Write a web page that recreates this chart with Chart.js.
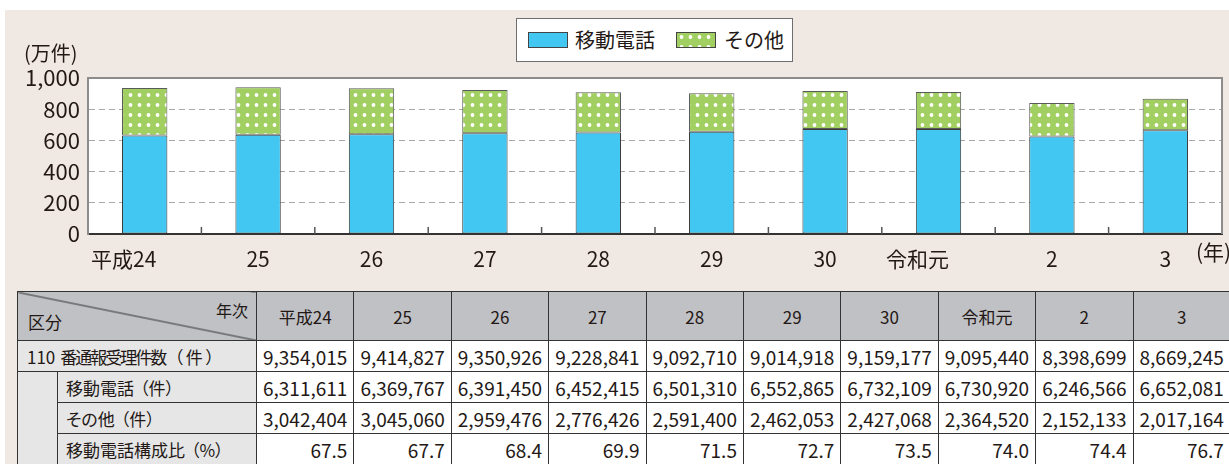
<!DOCTYPE html>
<html lang="ja">
<head>
<meta charset="utf-8">
<script src="https://cdn.jsdelivr.net/npm/chart.js@4.4.0/dist/chart.umd.min.js"></script>
<style>
body{margin:0;background:#fff;font-family:"Noto Sans CJK JP","Noto Sans",sans-serif;color:#231815;width:1229px;height:464px;overflow:hidden;position:relative;}
#bg{position:absolute;left:5px;top:10px;width:1224px;height:454px;background:#f0e9e3;}
#cv{position:absolute;left:0;top:0;}
#legend{position:absolute;left:516px;top:18px;width:275px;height:42px;border:1px solid #6f6f6f;background:#fff;font-size:20px;}
#legend .it{position:absolute;top:0;height:42px;line-height:42px;white-space:nowrap;}
#legend .sw{position:absolute;top:13px;width:38px;height:14px;border:1px solid #444;}
#tbl{position:absolute;left:17px;top:291px;border-collapse:collapse;table-layout:fixed;font-size:19px;color:#231815;width:1213px;}
#tbl td,#tbl th{border:1.5px solid #333;padding:0 6px;font-weight:normal;white-space:nowrap;overflow:hidden;}
#tbl th{background:#c0c1c5;text-align:center;font-size:17px;}
#tbl td{text-align:right;background:#fff;}
#tbl td.lab{background:#e6e6e6;text-align:left;font-size:17px;font-feature-settings:"palt";}
#tbl td.lab .u{padding-left:6px;}
#tbl th.corner{background:linear-gradient(to top right,#c0c1c5 calc(50% - 1px),#333 50%,#c0c1c5 calc(50% + 1px));position:relative;padding:0;}
#tbl tr.hd{height:49px;}
#tbl tr.rw{height:31px;}
</style>
</head>
<body>
<div id="bg"></div>
<canvas id="cv" width="1229" height="280"></canvas>
<div id="legend"></div>
<table id="tbl"></table>
<script>
// 年次
var years = ['平成24','25','26','27','28','29','30','令和元','2','3'];
// 件数
var mobile = [6311611,6369767,6391450,6452415,6501310,6552865,6732109,6730920,6246566,6652081];
var other  = [3042404,3045060,2959476,2776426,2591400,2462053,2427068,2364520,2152133,2017164];
var total  = [9354015,9414827,9350926,9228841,9092710,9014918,9159177,9095440,8398699,8669245];
var ratio  = ['67.5','67.7','68.4','69.9','71.5','72.7','73.5','74.0','74.4','76.7'];
var yTicks = [0,200,400,600,800,1000];
var seriesNames = ['移動電話','その他'];

var BLUE = '#41c7f2';
var GREEN = '#a2cf62';
var TXT = '#231815';

function dots(){
  var c = document.createElement('canvas'); c.width = 9; c.height = 10;
  var g = c.getContext('2d');
  g.fillStyle = GREEN; g.fillRect(0,0,9,10);
  g.fillStyle = '#fff'; g.beginPath(); g.arc(4.5,5,1.9,0,Math.PI*2); g.fill();
  return g.createPattern(c,'repeat');
}

// legend (html)
var lg = document.getElementById('legend');
lg.innerHTML =
  "<span class='sw' style='left:11px;background:"+BLUE+"'></span>"+
  "<span class='it' style='left:58px'>"+seriesNames[0]+"</span>"+
  "<span class='sw' style='left:159px;background:radial-gradient(circle,#fff 1.6px,transparent 2.2px) 0 -1px/9px 10px,"+GREEN+"'></span>"+
  "<span class='it' style='left:207px'>"+seriesNames[1]+"</span>";

var extras = {
  id:'extras',
  beforeDraw:function(c){
    var a = c.chartArea, x = c.ctx;
    x.save(); x.fillStyle = '#fff'; x.fillRect(a.left,a.top,a.right-a.left,a.bottom-a.top); x.restore();
  },
  afterDraw:function(c){
    var a = c.chartArea, x = c.ctx, sx = c.scales.x;
    x.save();
    // top / right frame
    x.strokeStyle = '#8c8c8c'; x.lineWidth = 2;
    x.beginPath(); x.moveTo(a.left,a.top); x.lineTo(a.right,a.top); x.lineTo(a.right,a.bottom); x.stroke();
    // small ticks between categories
    x.strokeStyle = '#555'; x.lineWidth = 1.5;
    for(var i=1;i<years.length;i++){
      var px = (sx.getPixelForTick(i-1)+sx.getPixelForTick(i))/2;
      x.beginPath(); x.moveTo(px,a.bottom); x.lineTo(px,a.bottom-7); x.stroke();
    }
    x.fillStyle = TXT; x.font = '20px "Noto Sans CJK JP"'; x.textBaseline = 'middle'; x.textAlign = 'left';
    x.fillText('(万件)', a.left-64, a.top-25);
    x.font = '21px "Noto Sans CJK JP"';
    x.fillText('(年)', a.right-26, a.bottom+18);
    x.restore();
  }
};

new Chart(document.getElementById('cv'), {
  type:'bar',
  data:{
    labels: years,
    datasets:[
      {label:seriesNames[0], data: mobile.map(function(v){return v/10000;}), backgroundColor:BLUE, borderColor:'#3a3a3a', borderWidth:1, borderSkipped:false},
      {label:seriesNames[1], data: other.map(function(v){return v/10000;}), backgroundColor:dots(), borderColor:'#5a5a5a', borderWidth:1, borderSkipped:false}
    ]
  },
  options:{
    responsive:false,
    animation:false,
    layout:{padding:{top:78,right:7,left:0,bottom:0}},
    plugins:{legend:{display:false},tooltip:{enabled:false}},
    datasets:{bar:{categoryPercentage:1,barPercentage:0.4}},
    scales:{
      x:{
        stacked:true,
        grid:{display:false},
        border:{color:'#333',width:2},
        ticks:{color:TXT,font:{size:21,family:'"Noto Sans CJK JP"'},padding:4,maxRotation:0,autoSkip:false,
          callback:function(v){ var l = years[v]; return l.length>2 ? l+'\u3000\u3000' : l; }},
        afterFit:function(s){ s.height = 46; }
      },
      y:{
        stacked:true,
        min:0,max:1000,
        afterBuildTicks:function(s){ s.ticks = yTicks.map(function(v){return {value:v};}); },
        grid:{drawTicks:false,color:function(ctx){ var v = ctx.tick ? ctx.tick.value : 0; return (v===0||v===1000)?'rgba(0,0,0,0)':'#a8a8a8'; },lineWidth:1},
        border:{color:'#8c8c8c',width:2,dash:[6,4]},
        ticks:{color:TXT,font:{size:22,family:'"Noto Sans CJK JP"'},padding:8},
        afterFit:function(s){ s.width = 88; }
      }
    }
  },
  plugins:[extras]
});

// table
var h = "<colgroup><col style='width:40px'><col style='width:199px'>";
for(var i=0;i<years.length;i++) h += "<col style='width:97.4px'>";
h += "</colgroup>";
h += "<tr class='hd'><th class='corner' colspan='2'><span style='position:absolute;right:8px;top:6px;font-size:16px'>年次</span><span style='position:absolute;left:10px;bottom:6px;font-size:17px'>区分</span></th>";
for(var i=0;i<years.length;i++) h += "<th>"+years[i]+"</th>";
h += "</tr>";
function fmt(v){ return v.toLocaleString('en-US'); }
h += "<tr class='rw'><td class='lab' colspan='2' style='padding-left:9px'>110<span style='letter-spacing:-2px;margin-left:5px'>番通報受理件数</span><span class='u' style='padding-left:9px;letter-spacing:3px'>（件）</span></td>";
for(var i=0;i<total.length;i++) h += "<td>"+fmt(total[i])+"</td>";
h += "</tr>";
h += "<tr class='rw'><td class='lab' rowspan='3'></td><td class='lab' style='padding-left:8px'>移動電話<span class='u'>（件）</span></td>";
for(var i=0;i<mobile.length;i++) h += "<td>"+fmt(mobile[i])+"</td>";
h += "</tr>";
h += "<tr class='rw'><td class='lab' style='padding-left:8px'>その他<span class='u'>（件）</span></td>";
for(var i=0;i<other.length;i++) h += "<td>"+fmt(other[i])+"</td>";
h += "</tr>";
h += "<tr class='rw'><td class='lab' style='padding-left:8px'>移動電話構成比<span class='u'>（%）</span></td>";
for(var i=0;i<ratio.length;i++) h += "<td>"+ratio[i]+"</td>";
h += "</tr>";
document.getElementById('tbl').innerHTML = h;
</script>
</body>
</html>
